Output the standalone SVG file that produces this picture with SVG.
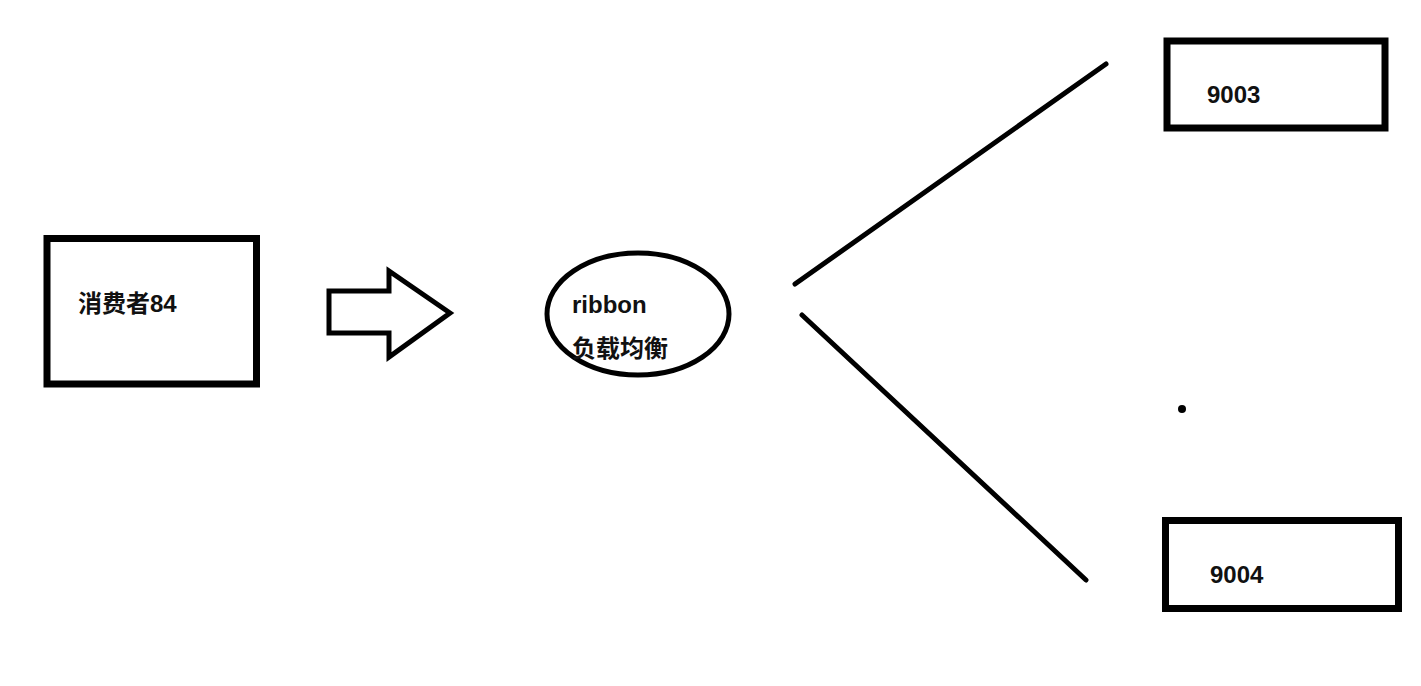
<svg xmlns="http://www.w3.org/2000/svg" width="1421" height="686" viewBox="0 0 1421 686">
<style>
.box{fill:#fff;stroke:#000;stroke-width:7}
.shape{fill:#fff;stroke:#000;stroke-width:5;stroke-linejoin:miter}
.line{stroke:#000;stroke-width:5;stroke-linecap:round;fill:none}
.t{font-family:"Liberation Sans","Noto Sans CJK SC",sans-serif;font-size:24px;font-weight:bold;fill:#111}
</style>
<rect width="1421" height="686" fill="#fff"/>
<g id="consumer">
<rect class="box" x="47" y="238.5" width="209.5" height="145.5"/>
<text class="t" x="78" y="312">消费者84</text>
</g>
<g id="arrow">
<polygon class="shape" points="329,291 389,291 389,271 450,313 389,357 389,333 329,333"/>
</g>
<g id="ribbon">
<ellipse class="shape" cx="638" cy="314" rx="91" ry="61"/>
<text class="t" x="572" y="313">ribbon</text>
<text class="t" x="572" y="357">负载均衡</text>
</g>
<g id="s9003">
<rect class="box" x="1167" y="41" width="218" height="87"/>
<text class="t" x="1207" y="103">9003</text>
</g>
<g id="s9004">
<rect class="box" x="1165.5" y="520.5" width="233" height="88"/>
<text class="t" x="1210" y="583">9004</text>
</g>
<g id="connectors">
<line class="line" x1="795" y1="284" x2="1106" y2="64"/>
<line class="line" x1="802" y1="315" x2="1086" y2="580"/>
</g>
<circle cx="1182" cy="409" r="4" fill="#000"/>
</svg>
